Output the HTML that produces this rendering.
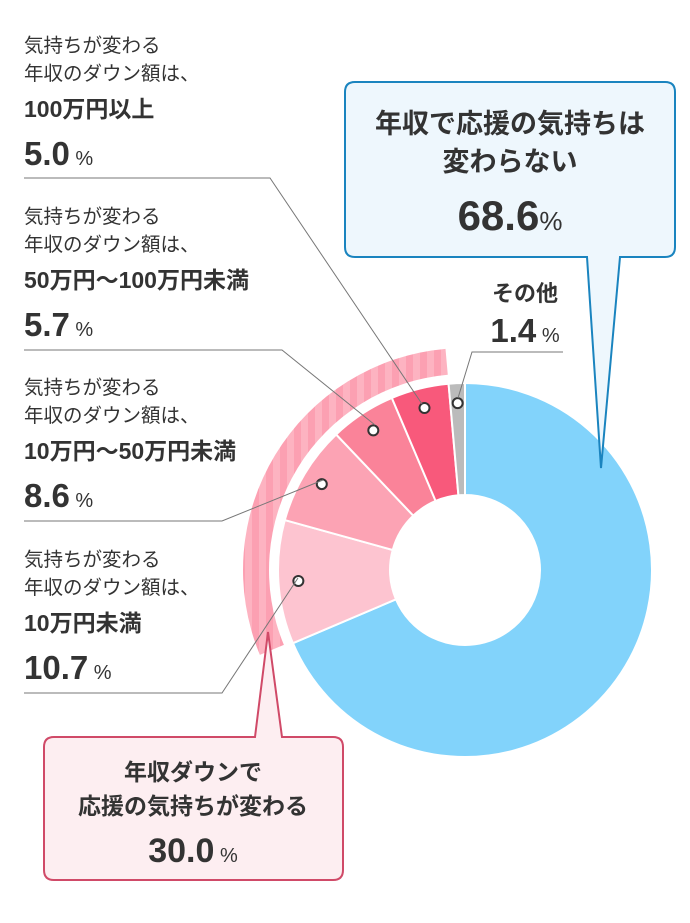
<!DOCTYPE html>
<html><head><meta charset="utf-8">
<style>
body{margin:0;background:#fff;}
svg text{font-family:"Liberation Sans","Noto Sans CJK JP",sans-serif;fill:#333;}
</style></head>
<body>
<svg id="chart" width="690" height="918" viewBox="0 0 690 918" xmlns="http://www.w3.org/2000/svg">
<defs>
<pattern id="stripes" width="14" height="10" patternUnits="userSpaceOnUse">
<rect width="14" height="10" fill="#fca0b2"/>
<rect x="7" width="7" height="10" fill="#fdb3c1"/>
</pattern>
</defs>
<g id="slices"></g>
<g id="dots"></g>

<g stroke="#777" stroke-width="1" fill="none">
<polyline points="24,178 270,178 422,404"/>
<polyline points="24,350 282,350 375,425"/>
<polyline points="24,521 222,521 323,480"/>
<polyline points="24,693 222,693 298,578"/>
<polyline points="563,352 472,352 458,398"/>
</g>

<g>
<text x="24" y="52" font-size="19.5">気持ちが変わる</text>
<text x="24" y="80" font-size="19.5">年収のダウン額は、</text>
<text x="24" y="117" font-size="23" font-weight="bold">100万円以上</text>
<text x="24" y="165" font-size="33" font-weight="bold">5.0<tspan font-size="20" font-weight="normal"> %</tspan></text>
</g>
<g>
<text x="24" y="223" font-size="19.5">気持ちが変わる</text>
<text x="24" y="251" font-size="19.5">年収のダウン額は、</text>
<text x="24" y="288" font-size="23" font-weight="bold">50万円〜100万円未満</text>
<text x="24" y="336" font-size="33" font-weight="bold">5.7<tspan font-size="20" font-weight="normal"> %</tspan></text>
</g>
<g>
<text x="24" y="394" font-size="19.5">気持ちが変わる</text>
<text x="24" y="422" font-size="19.5">年収のダウン額は、</text>
<text x="24" y="459" font-size="23" font-weight="bold">10万円〜50万円未満</text>
<text x="24" y="507" font-size="33" font-weight="bold">8.6<tspan font-size="20" font-weight="normal"> %</tspan></text>
</g>
<g>
<text x="24" y="566" font-size="19.5">気持ちが変わる</text>
<text x="24" y="594" font-size="19.5">年収のダウン額は、</text>
<text x="24" y="631" font-size="23" font-weight="bold">10万円未満</text>
<text x="24" y="679" font-size="33" font-weight="bold">10.7<tspan font-size="20" font-weight="normal"> %</tspan></text>
</g>
<g>
<text x="525" y="301" font-size="22" font-weight="bold" text-anchor="middle">その他</text>
<text x="525" y="342" font-size="33" font-weight="bold" text-anchor="middle">1.4<tspan font-size="20" font-weight="normal"> %</tspan></text>
</g>

<g>
<path d="M355,82 H665 Q675,82 675,92 V247 Q675,257 665,257 H620 L601,468 L587,257 H355 Q345,257 345,247 V92 Q345,82 355,82 Z" fill="#eef7fd" stroke="#1a84bf" stroke-width="2"/>
<text x="510" y="133" font-size="27" font-weight="bold" text-anchor="middle">年収で応援の気持ちは</text>
<text x="510" y="171" font-size="27" font-weight="bold" text-anchor="middle">変わらない</text>
<text x="510" y="230" font-size="42" font-weight="bold" text-anchor="middle">68.6<tspan font-size="26" font-weight="normal">%</tspan></text>
</g>

<g>
<path d="M54,737 H255 L268,632 L282,737 H333 Q343,737 343,747 V870 Q343,880 333,880 H54 Q44,880 44,870 V747 Q44,737 54,737 Z" fill="#fdeef1" stroke="#d04a68" stroke-width="2"/>
<text x="193" y="780" font-size="23" font-weight="bold" text-anchor="middle">年収ダウンで</text>
<text x="193" y="814" font-size="23" font-weight="bold" text-anchor="middle">応援の気持ちが変わる</text>
<text x="193" y="862" font-size="34" font-weight="bold" text-anchor="middle">30.0<tspan font-size="20" font-weight="normal"> %</tspan></text>
</g>
</svg>
<script>
const categories = ['unchanged','under-10man','10-50man','50-100man','over-100man','other'];
const values = [68.6, 10.7, 8.6, 5.7, 5.0, 1.4];
const colors = ['#82d3fb','#fdc4d0','#fca3b4','#fa8399','#f8597b','#bbbbbb'];
const cx = 465, cy = 570, R = 187, r = 75;
const NS = 'http://www.w3.org/2000/svg';
const total = values.reduce((a,b)=>a+b,0);
function angle(v){ return v/total*2*Math.PI; }
function pt(a, rad){ return [cx + rad*Math.sin(a), cy - rad*Math.cos(a)]; }
function arcPath(a0,a1,ro,ri){
  const large = (a1-a0) > Math.PI ? 1 : 0;
  const p0=pt(a0,ro), p1=pt(a1,ro), p2=pt(a1,ri), p3=pt(a0,ri);
  return `M${p0[0]},${p0[1]} A${ro},${ro} 0 ${large} 1 ${p1[0]},${p1[1]} L${p2[0]},${p2[1]} A${ri},${ri} 0 ${large} 0 ${p3[0]},${p3[1]} Z`;
}
const gS = document.getElementById('slices');
const gD = document.getElementById('dots');
let acc = 0;
const starts = [];
values.forEach((v,i)=>{
  const a0 = angle(acc), a1 = angle(acc+v);
  starts.push([a0,a1]);
  const p = document.createElementNS(NS,'path');
  p.setAttribute('d', arcPath(a0,a1,R,r));
  p.setAttribute('fill', colors[i]);
  p.setAttribute('stroke','#fff');
  p.setAttribute('stroke-width','2');
  
  
  gS.appendChild(p);
  if(i>0){
    const m = pt((a0+a1)/2, 167);
    const c = document.createElementNS(NS,'circle');
    c.setAttribute('cx', m[0]); c.setAttribute('cy', m[1]); c.setAttribute('r', 5);
    c.setAttribute('fill','#fff'); c.setAttribute('stroke','#333'); c.setAttribute('stroke-width','2');
    
    
    gD.appendChild(c);
  }
  acc += v;
});
const band = document.createElementNS(NS,'path');
band.setAttribute('d', arcPath(starts[1][0]+0.01, starts[4][1], 222, 196));
band.setAttribute('fill','url(#stripes)');


gS.appendChild(band);
</script>
</body></html>
